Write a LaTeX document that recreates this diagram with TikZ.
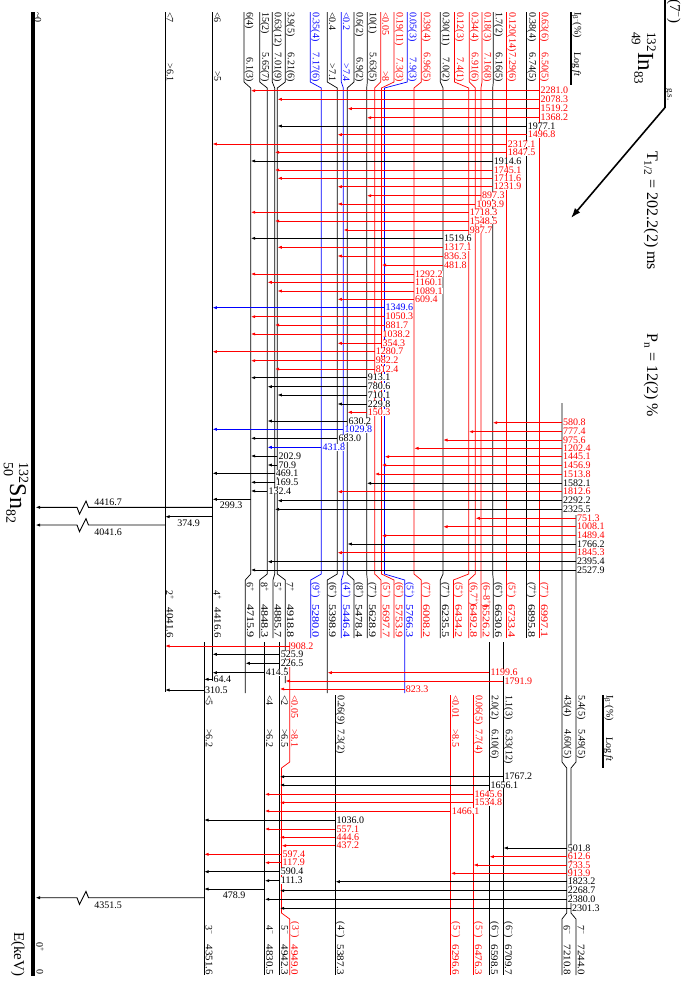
\documentclass[tikz,border=0pt]{standalone}
\usepackage{graphicx}
\usepackage{fontspec}
\setmainfont{Liberation Serif}
\usetikzlibrary{arrows.meta}
\definecolor{rd}{RGB}{255,0,0}
\definecolor{bl}{RGB}{0,0,255}
\newcounter{gc}
\newcommand\SPp{\textsuperscript{+}}
\newcommand\SPm{\textsuperscript{−}}
\tikzset{
  lev/.style={line width=0.7pt},
  gam/.style={line width=0.9pt,-{Latex[length=4.5pt,width=3.2pt]}},
  glab/.style={font=\fontsize{10}{10}\selectfont,inner sep=0pt,anchor=west,fill=white},
  rl/.style={rotate=-90,inner sep=0pt,font=\fontsize{10}{10}\selectfont},
}
\newcommand\gm[5]{\stepcounter{gc}%
  \draw[gam,#1] (#3 |- 0,#2) -- (#4 |- 0,#2);
  \node[glab,text=#1,xshift=1pt] (g\thegc) at (#3 |- 0,#2) {#5};}
\newcommand\ulev[6]{%
  \coordinate (#1G) at (#4,0);
  \coordinate (#1L) at (#5,0);
  \draw[lev,#2] (#3,12) -- (#3,82) -- (#4,88) -- (#4,574) -- (#5,580) -- (#5,#6);}
\newcommand\utxt[8]{%
  \node[rl,text=#2,anchor=west] (#1i) at (#3+5,12) {#5};
  \node[rl,text=#2,anchor=east] (#1f) at (#3+5,82) {#6};
  \node[rl,text=#2,anchor=west] (#1s) at (#4+5,582) {#7};
  \node[rl,text=#2,anchor=east] (#1e) at (#4+5,638) {\scalebox{1.22}[1]{#8}};}
\newcommand\ltxt[7]{%
  \node[rl,text=#2,anchor=west] (#1i) at (#3+5,695) {#4};
  \node[rl,text=#2,anchor=west] (#1f) at (#3+5,729) {#5};
  \node[rl,text=#2] (#1s) at (#3+5,930) {#6};
  \node[rl,text=#2,anchor=east] (#1e) at (#3+5,975) {\scalebox{1.1}[1]{#7}};}
\begin{document}
\begin{tikzpicture}[x=1pt,y=-1pt]
\useasboundingbox (0,0) rectangle (686,988);
\fill[white] (0,0) rectangle (686,988);

% ground state
\coordinate (GS) at (35.5,0);
\draw[line width=4.3pt] (32.9,12) -- (32.9,976);
\node[rl,anchor=west] (gsi) at (38,12) {\textasciitilde 0};
\node[rl] (gss) at (40,947) {0\SPp};
\node[rl,anchor=east] (gse) at (40,975) {0};
\node[rotate=-90,anchor=base west,inner sep=0pt,font=\fontsize{24}{24}\selectfont] (sn) at (10,462)
  {$^{\hbox{\fontsize{14}{14}\selectfont 132}}_{\hbox{\fontsize{14}{14}\selectfont 50}}$Sn$_{\hbox{\fontsize{14}{14}\selectfont 82}}$};
\node[rotate=-90,anchor=base west,inner sep=0pt,font=\fontsize{15}{15}\selectfont] (ekev) at (14,932) {E(keV)};

% 2+ and 4+
\coordinate (P2) at (165,0);
\coordinate (P4) at (212.3,0);
\draw[lev] (165,12) -- (165,692);
\draw[lev] (212.3,12) -- (212.3,681);
\node[rl,anchor=west] (p2i) at (170,12) {<7};
\node[rl,anchor=east] (p2f) at (170,82) {>6.1};
\node[rl,anchor=west] (p2s) at (170,590) {2\SPp};
\node[rl,anchor=east] (p2e) at (170,638) {\scalebox{1.1}[1]{4041.6}};
\node[rl,anchor=west] (p4i) at (217.5,12) {<6};
\node[rl,anchor=east] (p4f) at (217.5,82) {>5};
\node[rl,anchor=west] (p4s) at (217.5,590) {4\SPp};
\node[rl,anchor=east] (p4e) at (217.5,638) {\scalebox{1.1}[1]{4416.6}};

% upper levels
\ulev{a}{black}{244}{250.7}{245.3}{693}
\ulev{b}{black}{259.7}{267.3}{259.7}{638}
\ulev{c}{black}{272.3}{274.7}{273}{638}
\ulev{d}{black}{285.3}{277.3}{285.3}{683}
\ulev{e}{bl}{310.3}{321.3}{310.7}{638}
\ulev{f}{black}{327.3}{337.3}{327.3}{693}
\ulev{g}{bl}{341.3}{343.3}{341.3}{638}
\ulev{h}{black}{354}{347.3}{354}{638}
\ulev{i}{black}{367.3}{366.7}{367.3}{638}
\ulev{j}{rd}{380.7}{374.7}{381}{638}
\ulev{k}{rd}{394}{381.5}{394}{638}
\ulev{l}{bl}{407.3}{384.5}{404.7}{693}
\ulev{m}{rd}{421.3}{414}{421.3}{638}
\ulev{n}{black}{440.3}{443}{440.3}{638}
\ulev{o}{rd}{454.5}{468.7}{453.5}{638}
\ulev{p}{rd}{469.3}{475.3}{468.7}{638}
\ulev{q}{rd}{482}{481}{481}{638}
\ulev{r}{black}{493.3}{492.7}{493.3}{638}
\ulev{s}{rd}{506.7}{506.7}{506.7}{638}
\ulev{t}{black}{526.7}{526.7}{526.7}{638}
\ulev{u}{rd}{539.3}{539.3}{539.3}{638}

\utxt{a}{black}{244}{245.3}{6(4)}{6.1(3)}{6\SPp}{4715.9}
\utxt{b}{black}{259.7}{259.7}{15(2)}{5.65(7)}{8\SPp}{4848.3}
\utxt{c}{black}{272.3}{273}{0.63(12)}{7.01(9)}{5\SPp}{4885.7}
\utxt{d}{black}{285.3}{285.3}{3.9(5)}{6.21(6)}{7\SPp}{4918.8}
\utxt{e}{bl}{310.3}{310.7}{0.35(4)}{7.17(6)}{(9\SPp)}{5280.0}
\utxt{f}{black}{327.3}{327.3}{<0.4}{>7.1}{(6\SPp)}{5398.9}
\utxt{g}{bl}{341.3}{341.3}{<0.2}{>7.4}{(4\SPp)}{5446.4}
\utxt{h}{black}{354}{354}{0.6(2)}{6.9(2)}{(8\SPp)}{5478.4}
\utxt{i}{black}{367.3}{367.3}{10(1)}{5.63(5)}{(7\SPp)}{5628.9}
\utxt{j}{rd}{380.7}{381}{<0.05}{>8}{(5\SPp)}{5697.7}
\utxt{k}{rd}{394}{394}{0.19(11)}{7.3(3)}{(6\SPp)}{5753.9}
\utxt{l}{bl}{407.3}{404.7}{0.05(3)}{7.9(3)}{(5\SPp)}{5766.3}
\utxt{m}{rd}{421.3}{421.3}{0.39(4)}{6.96(5)}{(7\SPp)}{6008.2}
\utxt{n}{black}{440.3}{440.3}{0.30(11)}{7.0(2)}{(7\SPp)}{6235.5}
\utxt{o}{rd}{454.5}{453.5}{0.12(3)}{7.4(1)}{(5\SPp)}{6434.2}
\utxt{p}{rd}{469.3}{468.7}{0.34(4)}{6.91(6)}{(6,7\SPp)}{6492.8}
\utxt{q}{rd}{482}{481}{0.18(3)}{7.16(8)}{(6–8\SPp)}{6526.2}
\utxt{r}{black}{493.3}{493.3}{1.7(2)}{6.16(5)}{(6\SPp)}{6630.6}
\utxt{s}{rd}{506.7}{506.7}{0.120(14)}{7.29(6)}{(5\SPp)}{6733.4}
\utxt{t}{black}{526.7}{526.7}{0.38(4)}{6.74(5)}{(7\SPp)}{6895.8}
\utxt{u}{rd}{539.3}{539.3}{0.63(6)}{6.50(5)}{(7\SPp)}{6997.1}

% lower levels
\coordinate (M3) at (204,0);
\coordinate (M4) at (264.7,0);
\coordinate (M5) at (279.7,0);
\coordinate (M3b) at (281.5,0);
\coordinate (M3bU) at (289.7,0);
\coordinate (M4b) at (335.3,0);
\coordinate (M5a) at (450.7,0);
\coordinate (M5b) at (473.3,0);
\coordinate (M6a) at (489.3,0);
\coordinate (M6b) at (503.3,0);
\coordinate (X) at (562,0);
\coordinate (XG) at (566.7,0);
\coordinate (Y) at (576,0);
\coordinate (YG) at (571,0);
\draw[lev] (204,642) -- (204,975);
\draw[lev] (264.7,642) -- (264.7,975);
\draw[lev] (279.7,642) -- (279.7,975);
\draw[lev,rd] (289.7,642) -- (289.7,762) -- (281.5,768) -- (281.5,913) -- (289.7,919) -- (289.7,975);
\draw[lev] (335.3,695) -- (335.3,975);
\draw[lev,rd] (450.7,695) -- (450.7,975);
\draw[lev,rd] (473.3,695) -- (473.3,975);
\draw[lev] (489.3,642) -- (489.3,975);
\draw[lev] (503.3,642) -- (503.3,975);
\draw[lev] (562,403) -- (562,762) -- (566.7,768) -- (566.7,913) -- (562,919) -- (562,975);
\draw[lev] (576,515) -- (576,762) -- (571,768) -- (571,913) -- (576,919) -- (576,975);

\ltxt{m3}{black}{204}{<5}{>6.2}{3\SPm}{4351.6}
\ltxt{m4}{black}{264.7}{<4}{>6.2}{4\SPm}{4830.5}
\ltxt{m5}{black}{279.7}{<2}{>6.5}{5\SPm}{4942.3}
\ltxt{m3b}{rd}{289.7}{<0.05}{>8.1}{(3\SPm)}{4949.0}
\ltxt{m4b}{black}{335.3}{0.26(9)}{7.3(2)}{(4\SPm)}{5387.3}
\ltxt{m5a}{rd}{450.7}{<0.01}{>8.5}{(5\SPm)}{6296.6}
\ltxt{m5b}{rd}{473.3}{0.06(5)}{7.7(4)}{(5\SPm)}{6476.3}
\ltxt{m6a}{black}{489.3}{2.0(2)}{6.10(6)}{(6\SPm)}{6598.5}
\ltxt{m6b}{black}{503.3}{1.1(3)}{6.33(12)}{(6\SPm)}{6709.7}
\ltxt{xx}{black}{562}{43(4)}{4.60(5)}{6\SPm}{7210.8}
\ltxt{yy}{black}{576}{5.4(5)}{5.49(5)}{7\SPm}{7244.0}

% column headers
\draw[line width=1.7pt] (571,12) -- (571,85);
\node[rl,anchor=west] (hib1) at (576.5,12) {I\textsubscript{β\textsuperscript{−}}(\%)};
\node[rl,anchor=west] (hlf1) at (576.5,52) {Log \textit{ft}};
\draw[line width=1.7pt] (602.7,695) -- (602.7,768);
\node[rl,anchor=west] (hib2) at (608.5,695) {I\textsubscript{β\textsuperscript{−}}(\%)};
\node[rl,anchor=west] (hlf2) at (608.5,737) {Log \textit{ft}};

% parent
\draw[line width=1.8pt] (665,-2) -- (665,107.5);
\coordinate (PA) at (665,107.5);
\coordinate (PB) at (571,218);
\draw[line width=1.6pt,-{Latex[length=10pt,width=7pt]}] (PA) -- (PB);
\node[rotate=-90,anchor=base west,inner sep=0pt,font=\fontsize{15}{15}\selectfont] (psp) at (670,-1) {(7\SPm)};
\node[rotate=-90,anchor=base west,inner sep=0pt,font=\fontsize{9}{9}\selectfont] (pgs) at (667.5,88) {g.s.};
\node[rotate=-90,anchor=base west,inner sep=0pt,font=\fontsize{23}{23}\selectfont] (inl) at (638,32)
  {$^{\hbox{\fontsize{13}{13}\selectfont 132}}_{\hbox{\fontsize{13}{13}\selectfont 49}}$In$_{\hbox{\fontsize{13}{13}\selectfont 83}}$};
\node[rotate=-90,anchor=base west,inner sep=0pt,font=\fontsize{16}{16}\selectfont] (thalf) at (647,151) {T\textsubscript{1/2} = 202.2(2) ms};
\node[rotate=-90,anchor=base west,inner sep=0pt,font=\fontsize{16}{16}\selectfont] (pn) at (647,333) {P\textsubscript{n} = 12(2) \%};

% upper gammas
\gm{rd}{90.7}{uG}{aG}{2281.0}
\gm{rd}{99.3}{uG}{dG}{2078.3}
\gm{rd}{108.7}{uG}{hG}{1519.2}
\gm{rd}{117.7}{uG}{iG}{1368.2}
\gm{black}{126}{tG}{dG}{1977.1}
\gm{rd}{134.7}{tG}{fG}{1496.8}
\gm{rd}{144}{sG}{P4}{2317.1}
\gm{rd}{152.3}{sG}{cG}{1847.5}
\gm{black}{161}{rG}{aG}{1914.6}
\gm{rd}{170}{rG}{cG}{1745.1}
\gm{rd}{178.3}{rG}{dG}{1711.6}
\gm{rd}{186.7}{rG}{fG}{1231.9}
\gm{rd}{195.7}{qG}{iG}{897.3}
\gm{rd}{204}{pG}{fG}{1093.9}
\gm{rd}{212.3}{oG}{aG}{1718.3}
\gm{rd}{221}{oG}{cG}{1548.5}
\gm{rd}{230}{oG}{gG}{987.7}
\gm{black}{238.3}{nG}{aG}{1519.6}
\gm{rd}{247.3}{nG}{dG}{1317.1}
\gm{rd}{256}{nG}{fG}{836.3}
\gm{rd}{265}{nG}{kG}{481.8}
\gm{rd}{274}{mG}{aG}{1292.2}
\gm{rd}{282.3}{mG}{bG}{1160.1}
\gm{rd}{291}{mG}{dG}{1089.1}
\gm{rd}{299.3}{mG}{fG}{609.4}
\gm{bl}{307.7}{lG}{P4}{1349.6}
\gm{rd}{316.7}{lG}{aG}{1050.3}
\gm{rd}{325}{lG}{cG}{881.7}
\gm{rd}{334}{kG}{aG}{1038.2}
\gm{rd}{343.3}{kG}{fG}{354.3}
\gm{rd}{351.7}{jG}{P4}{1280.7}
\gm{rd}{360.7}{jG}{aG}{982.2}
\gm{rd}{369}{jG}{cG}{812.4}
\gm{black}{377.7}{iG}{aG}{913.1}
\gm{black}{386.7}{iG}{bG}{780.6}
\gm{black}{395}{iG}{dG}{710.1}
\gm{black}{404}{iG}{fG}{229.8}
\gm{rd}{412.3}{iG}{hG}{150.3}
\gm{black}{421}{hG}{bG}{630.2}
\gm{bl}{429.3}{gG}{P4}{1029.8}
\gm{black}{438.3}{fG}{aG}{683.0}
\gm{bl}{447.3}{eG}{bG}{431.8}
\gm{black}{456}{dG}{aG}{202.9}
\gm{black}{465}{dG}{bG}{70.9}
\gm{black}{473.3}{cG}{P4}{469.1}
\gm{black}{482.3}{cG}{aG}{169.5}
\gm{black}{491}{bG}{aG}{132.4}
\gm{rd}{422.7}{X}{rG}{580.8}
\gm{rd}{431.7}{X}{oG}{777.4}
\gm{rd}{440}{X}{nG}{975.6}
\gm{rd}{448.3}{X}{mG}{1202.4}
\gm{rd}{456.7}{X}{lG}{1445.1}
\gm{rd}{465}{X}{kG}{1456.9}
\gm{rd}{474}{X}{jG}{1513.8}
\gm{black}{483.3}{X}{iG}{1582.1}
\gm{rd}{491.7}{X}{fG}{1812.6}
\gm{black}{500.7}{X}{dG}{2292.2}
\gm{black}{509.3}{X}{cG}{2325.5}
\gm{rd}{518.3}{Y}{pG}{751.3}
\gm{rd}{526.7}{Y}{nG}{1008.1}
\gm{rd}{535.7}{Y}{kG}{1489.4}
\gm{black}{544}{Y}{hG}{1766.2}
\gm{rd}{552.7}{Y}{fG}{1845.3}
\gm{black}{561.7}{Y}{bG}{2395.4}
\gm{black}{570}{Y}{aG}{2527.9}

% low-lying transitions with labels beside the line
\draw[gam] (aG |- 0,499.3) -- (P4 |- 0,499.3);
\node[glab,anchor=center] (l2993) at (231,505.5) {299.3};
\draw[gam] (P4 |- 0,516.7) -- (P2 |- 0,516.7);
\node[glab,anchor=center] (l3749) at (188.5,523) {374.9};
\draw[gam] (P4 |- 0,507.3) -- (88.5,507.3) -- (86,501) -- (79.5,514) -- (77,507.3) -- (GS |- 0,507.3);
\node[glab,anchor=center] (l44167) at (108,502) {4416.7};
\draw[gam] (P2 |- 0,525) -- (88.5,525) -- (86,518.7) -- (79.5,531.7) -- (77,525) -- (GS |- 0,525);
\node[glab,anchor=center] (l40416) at (108,532) {4041.6};

% middle transitions
\gm{rd}{646}{M3bU}{P2}{908.2}
\gm{black}{654.3}{M5}{P4}{525.9}
\gm{black}{663.3}{M5}{aL}{226.5}
\gm{black}{672.7}{M4}{P4}{414.5}
\gm{rd}{672.7}{M6a}{fL}{1199.6}
\gm{black}{679.3}{P4}{M3}{64.4}
\gm{rd}{681}{M6b}{dL}{1791.9}
\gm{rd}{689}{lL}{M5}{823.3}
\gm{black}{690}{M3}{P2}{310.5}

% lower transitions
\gm{black}{776.7}{M6b}{M5}{1767.2}
\gm{black}{785}{M6a}{M5}{1656.1}
\gm{rd}{794.3}{M5b}{M4}{1645.6}
\gm{rd}{802.7}{M5b}{M5}{1534.8}
\gm{rd}{811}{M5a}{M4}{1466.1}
\gm{black}{820}{M4b}{M3}{1036.0}
\gm{rd}{829}{M4b}{M4}{557.1}
\gm{rd}{837.3}{M4b}{M5}{444.6}
\gm{rd}{845.7}{M4b}{M3b}{437.2}
\gm{rd}{854.3}{M3b}{M3}{597.4}
\gm{rd}{862.7}{M3b}{M4}{117.9}
\gm{black}{871.7}{M5}{M3}{590.4}
\gm{black}{880.7}{M5}{M4}{111.3}
\gm{black}{848}{XG}{M6b}{501.8}
\gm{rd}{856.7}{XG}{M6a}{612.6}
\gm{rd}{865}{XG}{M5b}{733.5}
\gm{rd}{873.3}{XG}{M5a}{913.9}
\gm{black}{881.7}{XG}{M4b}{1823.2}
\gm{black}{890.7}{XG}{M5}{2268.7}
\gm{black}{899.3}{XG}{M4}{2380.0}
\gm{black}{908.3}{YG}{M5}{2301.3}
\draw[gam] (M4 |- 0,889) -- (M3 |- 0,889);
\node[glab,anchor=center] (l4789) at (234,895.5) {478.9};
\draw[gam] (M3 |- 0,897.7) -- (88.5,897.7) -- (86,891.4) -- (79.5,904.4) -- (77,897.7) -- (GS |- 0,897.7);
\node[glab,anchor=center] (l43515) at (108,905) {4351.5};
\end{tikzpicture}
\end{document}
